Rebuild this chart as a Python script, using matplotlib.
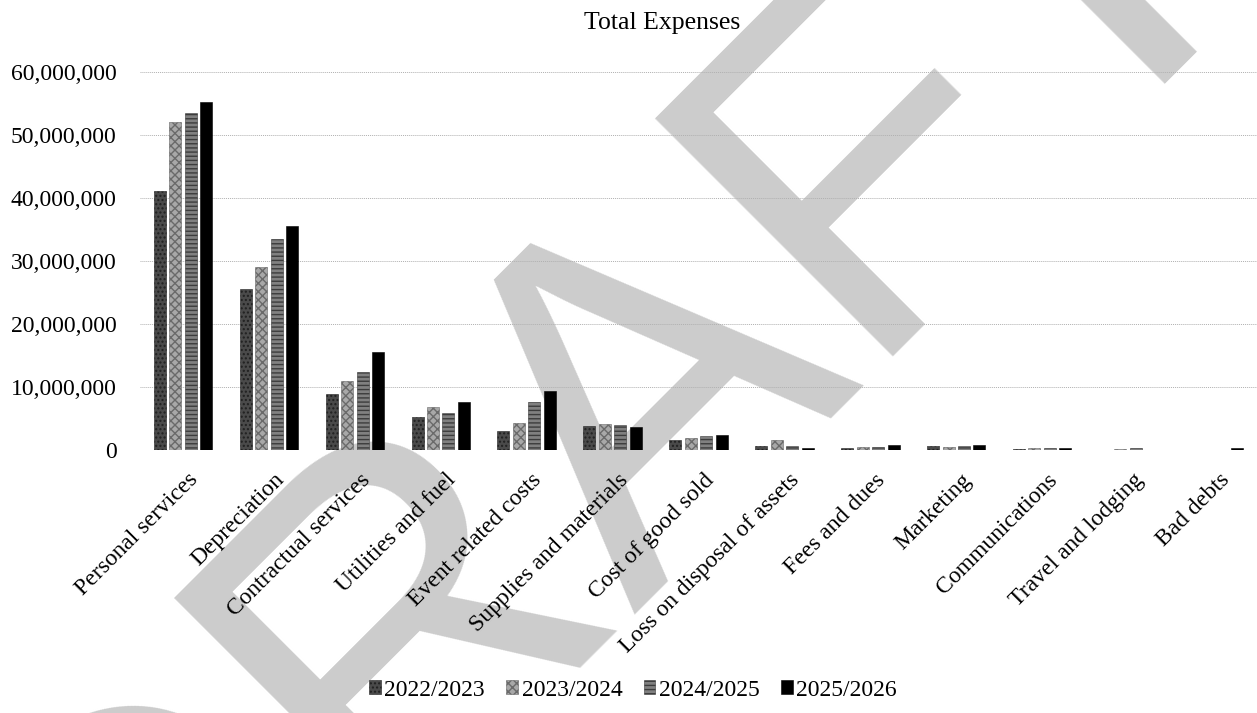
import numpy as np
import matplotlib.pyplot as plt
from matplotlib.transforms import ScaledTranslation

# data
categories = ["Personal services", "Depreciation", "Contractual services",
              "Utilities and fuel", "Event related costs", "Supplies and materials",
              "Cost of good sold", "Loss on disposal of assets", "Fees and dues",
              "Marketing", "Communications", "Travel and lodging", "Bad debts"]
years = ["2022/2023", "2023/2024", "2024/2025", "2025/2026"]
fy2023 = [41_000_000, 25_500_000, 8_900_000, 5_200_000, 3_000_000, 3_800_000,
          1_600_000, 700_000, 300_000, 600_000, 200_000, 50_000, 0]
fy2024 = [52_000_000, 29_000_000, 11_000_000, 6_800_000, 4_300_000, 4_200_000,
          1_900_000, 1_600_000, 500_000, 500_000, 250_000, 100_000, 0]
fy2025 = [53_500_000, 33_400_000, 12_400_000, 5_900_000, 7_600_000, 3_900_000,
          2_200_000, 700_000, 500_000, 600_000, 250_000, 250_000, 0]
fy2026 = [55_200_000, 35_600_000, 15_600_000, 7_600_000, 9_400_000, 3_600_000,
          2_300_000, 300_000, 750_000, 800_000, 250_000, 0, 300_000]
series = [fy2023, fy2024, fy2025, fy2026]

colors = ["#4a4a4a", "#a8a8a8", "#808080", "#000000"]
hatches = ["....", "xxxx", "----", None]
hatch_cols = ["#202020", "#6a6a6a", "#3c3c3c", "#000000"]

plt.rcParams["font.family"] = ["Liberation Serif", "DejaVu Serif"]

fig = plt.figure(figsize=(12.57, 7.13), dpi=100)
ax = fig.add_axes([140 / 1257, 1 - 450 / 713, 1 - 140 / 1257, (450 - 71.7) / 713])
ax.patch.set_alpha(0)

# DRAFT watermark behind the chart
fig.text(0.098, -0.521, "DRAFT", family="Liberation Sans", fontsize=352,
         color="#cccccc", rotation=45, rotation_mode="anchor",
         ha="left", va="baseline", zorder=-5)

x = np.arange(len(categories))
step = 0.18
width = 0.14
for i, vals in enumerate(series):
    ax.bar(x + (i - 1.5) * step, vals, width, color=colors[i],
           hatch=hatches[i], edgecolor=hatch_cols[i], linewidth=0.4,
           label=years[i], zorder=3)

ax.set_xlim(-0.5, len(categories) - 0.5)
ax.set_ylim(0, 60_000_000)
ax.set_yticks(np.arange(0, 60_000_001, 10_000_000))
ax.yaxis.set_major_formatter(plt.FuncFormatter(lambda v, p: f"{int(v):,}"))
ax.grid(axis="y", color="#b0b0b0", linestyle=(0, (1, 1)), linewidth=0.7, zorder=0)
for s in ax.spines.values():
    s.set_visible(False)
ax.tick_params(axis="y", length=0, pad=17, labelsize=17)
ax.tick_params(axis="x", length=0, labelsize=17)

ax.set_xticks(x)
ax.set_xticklabels(categories, rotation=45, ha="right", va="center",
                   rotation_mode="anchor")
offset = ScaledTranslation(0.12, -0.22, fig.dpi_scale_trans)
for lbl in ax.get_xticklabels():
    lbl.set_transform(lbl.get_transform() + offset)

fig.text(662 / 1257, 1 - 23 / 713, "Total Expenses", ha="center", va="center",
         fontsize=18.5)

fig.legend(loc="center", bbox_to_anchor=(633 / 1257, 1 - 690 / 713), ncol=4,
           frameon=False, fontsize=17, handlelength=0.5, handleheight=0.5,
           handletextpad=0.15, columnspacing=0.9)

fig.savefig("out.png", dpi=100)
